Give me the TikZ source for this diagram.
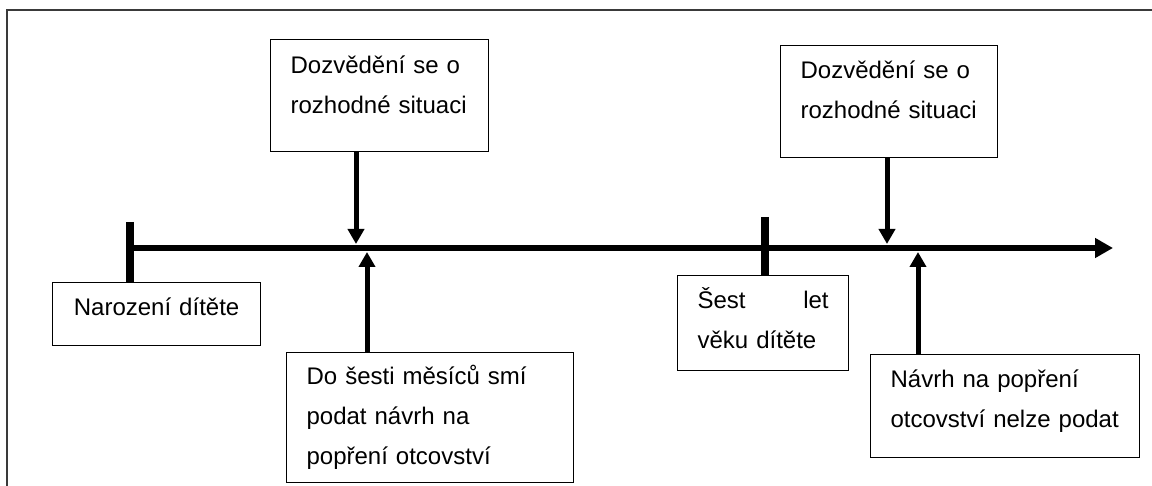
\documentclass[tikz,border=0pt]{standalone}
\usepackage{fontspec}
\setmainfont{Liberation Sans}
\usepackage{tikz}
\usetikzlibrary{arrows.meta}
\definecolor{framegray}{RGB}{58,58,58}

\begin{document}
\begin{tikzpicture}[x=0.5pt, y=-0.5pt,
  every node/.style = {font=\fontsize{12}{20}\selectfont},
  evbox/.style = {draw, line width=0.6pt, anchor=north west,
    align=left, inner xsep=10pt, inner ysep=0pt},
  timeline/.style = {line width=3pt, -{Triangle[length=9pt, width=9.5pt]}},
  tick/.style = {line width=4pt},
  evarrow/.style = {line width=2.5pt, -{Triangle[length=7.5pt, width=8pt]}}]
  \useasboundingbox (0,0) rectangle (1152,486);
  \draw[framegray, line width=1pt] (7,486) -- (7,10) -- (1152,10);

  % boxes
  \node[evbox, align=center, text width=84pt, text height=16.5pt, text depth=15pt]
    (born) at (52,282) {Narození dítěte};
  \node[evbox, text width=89pt, text height=17pt, text depth=39pt]
    (knowEarly) at (270,39) {Dozvědění se o\\rozhodné situaci};
  \node[evbox, text width=123.5pt, text height=16pt, text depth=49pt]
    (canSue) at (286,352) {Do šesti měsíců smí\\podat návrh na\\popření otcovství};
  \node[evbox, text width=65.5pt, text height=16.5pt, text depth=31pt]
    (sixYears) at (677,275) {Šest\hfill let\\věku dítěte};
  \node[evbox, text width=88.5pt, text height=16.5pt, text depth=39.5pt]
    (knowLate) at (780,45) {Dozvědění se o\\rozhodné situaci};
  \node[evbox, text width=114.5pt, text height=16.5pt, text depth=35pt]
    (cannotSue) at (870,354) {Návrh na popření\\otcovství nelze podat};

  % time axis
  \coordinate (tStart) at (130,248);
  \coordinate (tEnd) at (1113,248);
  \coordinate (tickBorn) at (130,222);
  \coordinate (tickSix) at (765,217);
  \coordinate (learnA) at (356,244);
  \coordinate (learnB) at (887,244);
  \coordinate (sueA) at (367,252);
  \coordinate (sueB) at (918,252);

  \draw[timeline] (tStart) -- (tEnd);
  \draw[tick] (tickBorn) -- (tickBorn |- born.north);
  \draw[tick] (tickSix) -- (tickSix |- sixYears.north);

  \draw[evarrow] (knowEarly.south -| learnA) -- (learnA);
  \draw[evarrow] (knowLate.south -| learnB) -- (learnB);
  \draw[evarrow] (canSue.north -| sueA) -- (sueA);
  \draw[evarrow] (cannotSue.north -| sueB) -- (sueB);
\end{tikzpicture}
\end{document}
